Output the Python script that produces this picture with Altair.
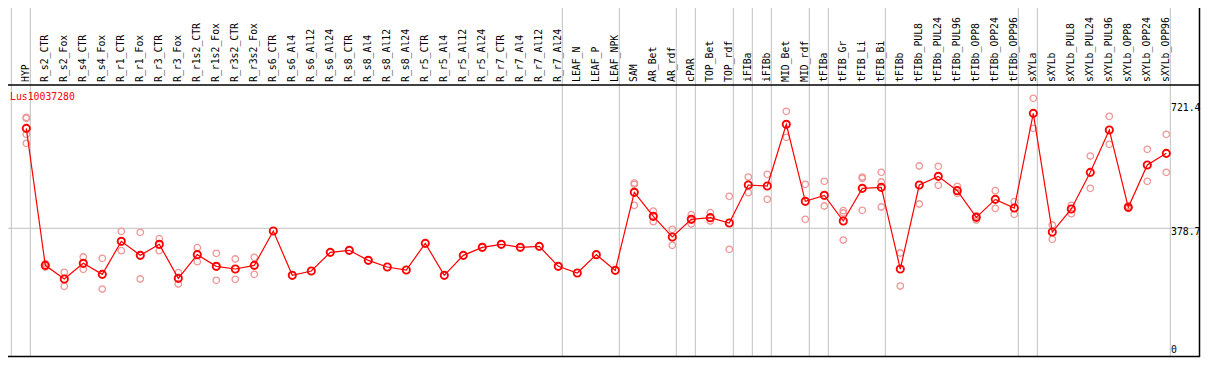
import altair as alt
import pandas as pd

categories = [
    "HYP", "R_s2_CTR", "R_s2_Fox", "R_s4_CTR", "R_s4_Fox", "R_r1_CTR", "R_r1_Fox",
    "R_r3_CTR", "R_r3_Fox", "R_r1s2_CTR", "R_r1s2_Fox", "R_r3s2_CTR", "R_r3s2_Fox",
    "R_s6_CTR", "R_s6_Al4", "R_s6_Al12", "R_s6_Al24", "R_s8_CTR", "R_s8_Al4",
    "R_s8_Al12", "R_s8_Al24", "R_r5_CTR", "R_r5_Al4", "R_r5_Al12", "R_r5_Al24",
    "R_r7_CTR", "R_r7_Al4", "R_r7_Al12", "R_r7_Al24", "LEAF_N", "LEAF_P", "LEAF_NPK",
    "SAM", "AR_Bet", "AR_rdf", "cPAR", "TOP_Bet", "TOP_rdf", "iFIBa", "iFIBb",
    "MID_Bet", "MID_rdf", "tFIBa", "tFIB_Gr", "tFIB_Li", "tFIB_Bi", "tFIBb",
    "tFIBb_PUL8", "tFIBb_PUL24", "tFIBb_PUL96", "tFIBb_OPP8", "tFIBb_OPP24", "tFIBb_OPP96",
    "sXYLa", "sXYLb", "sXYLb_PUL8", "sXYLb_PUL24", "sXYLb_PUL96", "sXYLb_OPP8",
    "sXYLb_OPP24", "sXYLb_OPP96",
]

means = [
    655.3, 276.1, 238.3, 281.7, 251.2, 342.6, 303.8, 334.3, 240.2, 305.7, 273.4, 266.0, 276.1,
    371.2, 248.5, 260.5, 312.1, 317.7, 290.0, 271.5, 263.2, 337.0, 248.5, 303.8, 326.0,
    334.3, 326.0, 328.7, 273.4, 254.9, 305.7, 262.3,
    478.2, 411.8, 354.6, 403.5, 408.1, 393.3, 498.5, 495.7,
    666.4, 453.3, 469.9, 398.8, 489.3, 492.0, 266.0,
    498.5, 522.5, 482.8, 409.0, 458.8, 434.8,
    696.8, 368.4, 432.1, 533.5, 650.7, 436.7, 553.8, 586.1,
]

replicates = [
    [685.8, 683.0, 638.7, 613.8], [280.7, 271.5], [256.8, 218.0], [299.2, 265.1],
    [295.5, 210.6], [370.2, 316.7], [367.5, 238.3], [349.9, 316.7], [255.9, 224.5],
    [325.0, 286.3], [309.4, 234.6], [293.7, 237.4], [298.3, 251.2],
    [], [], [], [], [], [], [], [], [], [], [], [], [], [], [], [], [], [], [],
    [504.0, 500.3, 442.2], [426.5, 397.0], [375.8, 331.5], [416.4, 390.5],
    [421.9, 398.9], [467.1, 320.4], [520.6, 477.3], [528.0, 458.8],
    [702.4, 630.4], [500.3, 403.5], [508.6, 440.4], [427.4, 421.0, 346.2],
    [520.6, 517.0, 428.4], [533.5, 506.8, 437.6], [310.3, 218.9],
    [551.1, 445.9], [550.2, 497.6], [494.8, 475.4], [412.7, 401.6],
    [482.8, 433.9], [452.4, 417.3],
    [738.4, 655.3], [387.8, 348.1], [442.2, 419.1], [578.7, 489.3],
    [688.5, 611.0], [440.4, 433.9], [597.2, 508.6], [638.7, 533.5],
]

group_sizes = [1, 28, 3, 3, 1, 2, 1, 1, 2, 1, 3, 7, 1, 7]
gene_name = "Lus10037280"
scale_labels = ["721.4", "378.7"]
scale_values = [721.4, 378.7]
zero_label = ["0"]
mean_line_value = 378.7

# layout (kept inside the page: svg must not exceed 1193 x 354)
W, H = 1192, 272
TOP = 77
PX_PER_UNIT = 283 / 783.3
Y_TOP = 775.3
RED = "#ff0000"
REP = "#f09696"
GRID = "#c0c0c0"
FONT = "DejaVu Sans Mono"
FS = 9.8

xs = alt.Scale(domain=[-0.963, -0.963 + W / 19.0], nice=False, zero=False)
ys = alt.Scale(domain=[Y_TOP - H / PX_PER_UNIT, Y_TOP], nice=False, zero=False)

idx = list(range(len(categories)))
mean_df = pd.DataFrame({"i": idx, "cat": categories, "v": means})
rep_df = pd.DataFrame([(i, v) for i, r in enumerate(replicates) for v in r], columns=["i", "v"])
bounds = [0]
for g in group_sizes:
    bounds.append(bounds[-1] + g)
bound_df = pd.DataFrame({"b": bounds})
one = pd.DataFrame({"a": [0]})

vlines = alt.Chart(bound_df).transform_calculate(bx="datum.b - 0.789").mark_rule(
    color=GRID, strokeWidth=1
).encode(
    x=alt.X("bx:Q", scale=xs, axis=None),
    y=alt.value(-TOP), y2=alt.value(H),
)

hline = alt.Chart(pd.DataFrame({"v": [mean_line_value]})).mark_rule(
    color=GRID, strokeWidth=1
).encode(
    y=alt.Y("v:Q", scale=ys, axis=None),
    x=alt.value(0), x2=alt.value(W),
)

top_border = alt.Chart(one).mark_rule(color="black", strokeWidth=1.5).encode(
    y=alt.value(0), x=alt.value(0), x2=alt.value(W)
)
bottom_border = alt.Chart(one).mark_rule(color="black", strokeWidth=1.5).encode(
    y=alt.value(H - 0.5), x=alt.value(0), x2=alt.value(W)
)
right_border = alt.Chart(one).mark_rule(color="black", strokeWidth=1.5).encode(
    x=alt.value(W - 0.5), y=alt.value(-TOP), y2=alt.value(H)
)

cat_labels = alt.Chart(mean_df).mark_text(
    angle=270, align="left", baseline="middle", font=FONT, fontSize=FS, color="black"
).encode(
    x=alt.X("i:Q", scale=xs, axis=None),
    y=alt.value(-3),
    text="cat:N",
)

reps = alt.Chart(rep_df).mark_point(
    shape="circle", filled=False, size=42, strokeWidth=1.3, color=REP, opacity=1
).encode(
    x=alt.X("i:Q", scale=xs, axis=None),
    y=alt.Y("v:Q", scale=ys, axis=None),
)

line = alt.Chart(mean_df).mark_line(color=RED, strokeWidth=1.2).encode(
    x=alt.X("i:Q", scale=xs, axis=None),
    y=alt.Y("v:Q", scale=ys, axis=None),
    order="i:Q",
)

mean_pts = alt.Chart(mean_df).mark_point(
    shape="circle", filled=False, size=52, strokeWidth=1.9, color=RED, opacity=1
).encode(
    x=alt.X("i:Q", scale=xs, axis=None),
    y=alt.Y("v:Q", scale=ys, axis=None),
)

title = alt.Chart(pd.DataFrame({"t": [gene_name]})).mark_text(
    align="left", baseline="middle", font=FONT, fontSize=FS, color=RED
).encode(x=alt.value(2), y=alt.value(12), text="t:N")

right_labels = alt.Chart(pd.DataFrame({"t": scale_labels, "v": scale_values})).mark_text(
    align="left", baseline="middle", font=FONT, fontSize=FS, color="black", dy=3.3
).encode(
    x=alt.value(W - 29),
    y=alt.Y("v:Q", scale=ys, axis=None),
    text="t:N",
)
zero_lab = alt.Chart(pd.DataFrame({"t": zero_label})).mark_text(
    align="left", baseline="middle", font=FONT, fontSize=FS, color="black"
).encode(
    x=alt.value(W - 29),
    y=alt.value(H - 7),
    text="t:N",
)

chart = alt.layer(
    vlines, hline, top_border, bottom_border, right_border, cat_labels,
    reps, line, mean_pts, title, right_labels, zero_lab,
).properties(
    width=W, height=H,
    autosize=alt.AutoSizeParams(type="none"),
    padding={"left": 0, "top": TOP, "right": 1, "bottom": 1},
    background="white",
).configure_view(stroke=None)

chart.save("out.html", embed_options={"renderer": "svg", "actions": False})
